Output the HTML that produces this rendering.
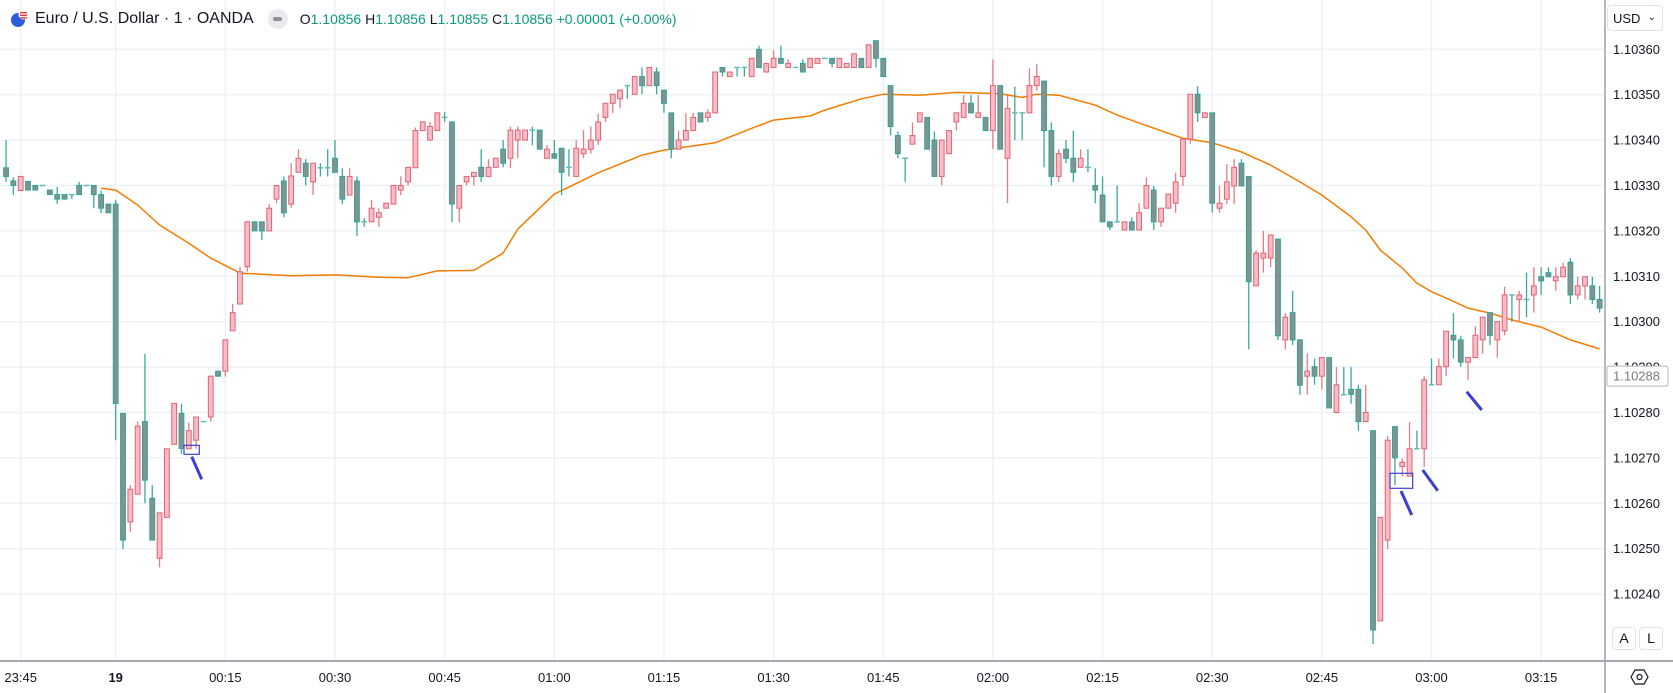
<!DOCTYPE html>
<html><head><meta charset="utf-8">
<style>
html,body{margin:0;padding:0;background:#fff;}
body{width:1673px;height:693px;overflow:hidden;position:relative;font-family:"Liberation Sans",sans-serif;}
#chart{position:absolute;left:0;top:0;}
.hdr{position:absolute;top:8px;left:0;height:22px;display:flex;align-items:center;font-size:16px;color:#131722;white-space:nowrap;}
.ohlc{font-size:14px;color:#131722;}
.ohlc b{font-weight:normal;color:#089981;}
.btn{position:absolute;width:22px;height:21px;border:1px solid #e0e3eb;border-radius:4px;background:#fff;font-size:14px;text-align:center;line-height:21px;color:#131722;}
</style></head>
<body>
<svg id="chart" width="1673" height="693"></svg>

<div class="hdr">
  <svg width="20" height="20" style="margin-left:9px">
    <circle cx="9" cy="11" r="7" fill="#2b5fd9"/><circle cx="14" cy="6" r="4.5" fill="#fff"/>
    <rect x="11" y="3" width="7" height="1.4" fill="#e53935"/><rect x="11" y="5.6" width="7" height="1.4" fill="#e53935"/><rect x="11" y="8.2" width="7" height="1.4" fill="#e53935"/>
  </svg>
  <span style="margin-left:6px">Euro / U.S. Dollar · 1 · OANDA</span>
  <span style="margin-left:14px;width:20px;height:20px;border-radius:10px;background:#e9eaee;display:inline-flex;align-items:center;justify-content:center"><span style="width:9px;height:4px;background:#8c8f97;border-radius:2px"></span></span>
  <span class="ohlc" style="margin-left:12px">O<b>1.10856</b> H<b>1.10856</b> L<b>1.10855</b> C<b>1.10856</b> <b>+0.00001 (+0.00%)</b></span>
</div>

<div style="position:absolute;left:1607px;top:5px;width:56px;height:26px;border:1px solid #e0e3eb;border-radius:4px;font-size:13px;line-height:26px;color:#131722;box-sizing:border-box;padding-left:5px">USD<span style="position:absolute;right:6px;top:-1px;font-size:10px">&#8964;</span></div>
<div class="btn" style="left:1612px;top:627px">A</div>
<div class="btn" style="left:1639px;top:627px">L</div>

<script>
// values in points: price = 1.10000 + value * 0.00001
const openPts=[333.9,331.0,328.9,330.9,330.0,330.0,329.0,328.0,328.0,328.0,330.0,330.0,330.0,328.0,325.9,325.9,279.8,255.9,262.0,278.0,261.1,247.9,256.9,273.0,279.8,272.0,273.9,278.0,279.0,289.1,289.1,298.0,303.9,312.1,322.0,322.0,320.0,327.0,331.0,325.9,332.9,334.9,330.8,333.9,333.9,336.0,332.0,327.9,331.0,322.0,322.0,323.0,325.0,325.9,329.0,330.8,333.9,342.1,340.0,342.1,345.0,344.0,325.0,330.8,332.0,334.0,332.0,334.0,338.0,336.0,340.0,340.0,342.2,342.2,336.0,337.0,338.2,334.0,332.0,337.0,338.0,340.0,345.0,348.1,349.1,352.0,350.1,354.0,352.0,355.0,351.0,346.0,338.0,340.0,342.1,346.0,345.0,346.0,356.0,354.0,356.0,356.0,354.0,360.0,355.0,356.0,358.0,356.0,356.0,356.9,356.0,356.9,358.0,358.0,356.0,356.0,356.0,358.0,356.0,361.9,358.0,352.0,341.0,336.0,339.1,344.0,345.0,340.0,332.0,337.0,344.0,345.0,348.1,345.0,345.0,342.1,352.0,336.0,346.0,346.0,346.0,352.0,353.0,342.1,332.0,338.0,336.0,334.0,334.0,330.0,327.9,322.0,322.0,320.2,322.0,320.2,325.0,329.0,322.0,325.0,326.1,332.0,340.2,350.1,345.0,346.0,325.0,327.0,329.9,334.9,332.0,307.9,314.0,314.0,318.2,296.0,302.0,296.0,288.0,290.1,288.0,292.1,280.0,283.9,285.1,285.1,278.0,276.0,234.1,251.9,276.9,268.1,266.0,272.0,272.0,286.1,286.1,290.1,297.0,296.0,291.1,292.1,296.0,302.0,296.0,298.0,305.9,304.9,304.9,305.9,309.9,310.8,309.0,309.9,313.1,305.9,307.9,307.9,304.9];
const highPts=[340.0,331.8,332.0,330.9,330.0,330.0,329.0,329.7,328.0,328.0,330.8,330.0,330.0,328.9,325.9,326.8,279.8,264.0,278.0,292.9,264.0,257.9,272.0,282.0,281.9,277.8,279.0,278.0,288.0,289.1,296.0,303.9,312.1,322.0,322.0,322.0,325.9,330.0,332.0,334.9,338.0,335.8,334.9,334.9,338.0,340.0,333.8,333.8,332.0,322.8,326.8,325.0,326.1,330.0,332.0,334.0,342.8,344.0,344.0,346.0,346.2,344.0,330.0,332.0,332.9,338.0,335.8,336.0,340.0,343.0,343.0,342.2,343.0,342.2,338.9,340.0,338.2,338.0,340.0,342.2,343.0,345.9,348.1,350.1,351.0,352.0,354.0,356.0,356.0,356.0,351.0,346.0,342.1,345.9,346.0,346.0,346.8,355.0,356.0,355.0,356.0,356.0,358.0,360.8,356.9,359.8,360.8,357.8,356.0,357.8,358.0,358.0,358.0,358.0,358.0,356.9,359.0,358.0,361.0,361.9,358.0,352.0,341.9,336.0,343.9,346.0,345.0,341.9,340.0,342.1,346.0,349.9,349.9,349.9,345.0,357.8,352.0,349.9,351.8,346.0,355.8,356.8,353.0,343.9,338.0,340.0,342.1,338.0,338.0,333.8,332.0,322.0,330.0,322.0,323.0,326.1,331.8,329.9,325.0,328.1,332.8,340.2,350.1,351.9,346.0,346.0,329.9,334.7,335.8,335.8,332.0,315.7,320.0,319.1,318.2,301.9,306.8,296.0,293.0,291.9,292.1,292.1,290.0,290.0,290.0,286.1,286.1,276.0,256.9,274.8,276.9,269.9,277.9,276.0,288.0,291.9,291.9,297.9,301.9,296.9,292.1,299.0,301.0,302.0,300.0,307.7,305.9,306.8,310.8,312.0,312.0,312.0,312.0,313.0,314.0,309.9,309.9,309.9,307.9];
const lowPts=[330.8,327.9,328.9,329.0,329.0,330.0,328.0,325.9,327.0,327.0,328.0,330.0,325.0,323.9,324.0,273.9,249.9,253.7,262.0,260.0,251.9,245.9,256.9,273.0,270.9,272.0,272.0,278.0,278.0,287.9,287.9,298.0,303.9,311.0,320.0,318.0,320.0,326.1,323.0,325.0,332.9,330.0,327.9,332.0,332.0,332.9,325.9,327.9,318.9,320.9,322.0,320.9,325.0,325.9,327.9,330.0,333.9,342.1,340.0,342.1,344.0,321.9,321.9,330.0,330.0,330.8,332.0,334.0,334.0,333.8,336.0,340.0,338.9,338.0,336.0,336.0,327.9,332.0,332.0,336.0,337.0,338.9,344.0,346.0,347.0,349.1,350.1,350.1,352.0,350.1,346.0,336.0,338.0,340.0,342.1,344.0,344.0,346.0,354.0,354.0,354.0,354.0,354.0,356.0,355.0,356.0,356.9,356.0,356.0,355.0,356.0,356.9,358.0,356.0,356.0,356.0,356.0,356.0,356.0,356.0,354.0,341.0,336.0,330.8,339.1,344.0,338.0,332.0,330.0,337.0,342.1,345.0,346.0,345.0,342.1,338.0,338.0,326.1,340.0,340.0,346.0,350.9,334.0,330.0,330.8,334.9,330.8,334.0,332.9,326.1,322.0,320.2,322.0,320.2,320.2,320.2,325.0,320.2,320.9,325.0,324.0,329.9,339.2,344.0,345.0,324.0,324.0,325.9,325.9,329.9,293.9,307.9,310.8,312.0,296.0,293.9,294.9,283.9,283.9,286.1,285.1,281.0,280.0,283.9,281.9,276.0,278.0,229.0,234.1,249.9,264.0,265.9,266.0,272.0,268.0,286.1,286.1,288.0,291.9,290.1,287.2,292.1,293.0,294.9,292.1,297.0,300.0,300.0,301.0,302.0,305.9,309.9,306.8,309.9,303.9,304.9,304.9,303.9,302.0];
const closePts=[332.0,330.0,332.0,329.0,329.0,330.0,328.0,327.0,327.0,328.0,328.0,330.0,328.0,325.0,324.0,282.0,251.9,263.1,277.0,265.1,251.9,257.9,272.0,282.0,272.1,276.0,279.0,278.0,288.0,288.0,296.0,302.0,311.0,322.0,320.0,320.0,325.0,330.0,324.0,332.1,336.0,332.0,334.9,333.9,333.9,332.9,327.0,332.0,322.0,322.0,325.0,324.0,326.1,330.0,330.0,334.0,342.1,344.0,343.0,346.0,345.0,325.9,330.0,332.0,332.9,332.0,334.0,336.0,334.9,342.2,342.2,342.2,342.2,338.0,338.0,336.0,332.9,334.0,338.2,338.0,340.0,344.0,348.1,350.1,351.0,352.0,354.0,352.0,356.0,352.0,348.1,338.0,340.0,342.1,345.0,344.0,346.0,355.0,355.0,355.0,356.0,356.0,358.0,356.0,356.9,358.0,356.9,356.9,356.0,355.0,358.0,358.0,358.0,356.9,358.0,356.9,359.0,356.0,361.0,358.0,354.0,343.0,337.0,336.0,341.0,346.0,338.0,332.0,340.0,342.1,346.0,348.1,346.0,346.0,342.1,352.0,338.0,347.0,346.0,346.0,352.0,354.0,342.1,332.0,337.0,336.0,332.9,336.0,334.0,329.0,322.0,320.9,322.0,322.0,320.2,324.0,330.0,322.0,325.0,328.1,330.8,340.2,350.1,346.0,346.0,326.1,326.1,330.8,334.0,329.9,308.8,315.1,315.1,319.1,296.9,301.0,296.0,286.0,289.1,288.0,292.1,281.0,286.1,283.9,284.0,278.0,280.0,232.1,256.9,273.9,270.0,269.0,272.0,272.0,287.2,286.1,290.1,297.9,296.0,291.1,292.1,297.0,301.0,297.0,300.0,305.9,305.9,305.9,304.9,307.9,309.0,309.9,309.9,312.0,305.9,307.9,309.9,304.9,303.0];
// moving average (read at candle indices)
const maIndex=[13,15,18,21,25,28,32,39,45,51,55,59,64,68,70,75,81,87,90,97,102,105,110,112,117,120,125,130,136,139,141,144,149,152,156,161,165,169,173,177,180,184,186,188,191,193,195,197,200,203,206,210,214,218];
const maPts=[329.4,329.0,325.7,321.3,317.3,314.0,310.7,310.1,310.3,309.8,309.7,311.2,311.3,315.1,320.4,328.1,332.8,336.7,337.8,339.4,342.6,344.4,345.3,346.6,349.1,350.1,349.9,350.5,350.2,349.4,350.1,349.9,347.7,345.5,343.2,340.4,339.4,337.4,334.5,330.8,327.9,323.1,320.2,315.8,311.8,308.5,306.6,305.2,303.0,301.9,300.4,298.8,296.0,294.0];
const priceTicks=[360,350,340,330,320,310,300,290,280,270,260,250,240];
const priceTickLabels=['1.10360','1.10350','1.10340','1.10330','1.10320','1.10310','1.10300','1.10290','1.10280','1.10270','1.10260','1.10250','1.10240'];
const timeTickIdx=[0,15,30,45,60,75,90,105,120,135,150,165,180,195];
const timeTickLabels=['23:45','19','00:15','00:30','00:45','01:00','01:15','01:30','01:45','02:00','02:15','02:30','02:45','03:00','03:15'];
const lastPricePts=288;
const lastPriceLabel='1.10288';

const NS='http://www.w3.org/2000/svg';
const svg=document.getElementById('chart');
const PLOT_R=1605, AXIS_Y=661;
function xOf(i){return 115.7+(i-15)*7.31;}
function yOf(p){return 321.7+(300-p)*4.54;}
function mk(tag,attrs,parent){const e=document.createElementNS(NS,tag);for(const k in attrs)e.setAttribute(k,attrs[k]);(parent||svg).appendChild(e);return e;}

const grid=mk('g',{});


priceTicks.forEach(p=>{
  const l=mk('line',{x1:0,x2:PLOT_R,y1:yOf(p),y2:yOf(p),stroke:'#eef1f5','stroke-width':1.5},grid);
  
  
});
const tl=['23:45','19','00:15','00:30','00:45','01:00','01:15','01:30','01:45','02:00','02:15','02:30','02:45','03:00','03:15'];
const tIdx=[0].concat(timeTickIdx.map(v=>v+15));
tIdx.forEach((ti,k)=>{
  let x=xOf(ti); if(k===0) x=20.7;
  const l=mk('line',{x1:x,x2:x,y1:0,y2:AXIS_Y,stroke:'#eef1f5','stroke-width':1.5},grid);
  
  
  const t=mk('text',{x:x,y:682,'text-anchor':'middle','font-size':13,fill:'#131722','font-family':'Liberation Sans, sans-serif','font-weight':timeTickLabels[k]==='19'?'bold':'normal'});
  t.textContent=timeTickLabels[k];
  
  
});

// moving average
let d='';
maIndex.forEach((ix,k)=>{d+=(k?'L':'M')+xOf(ix).toFixed(1)+' '+yOf(maPts[k]).toFixed(1)+' ';});
const ma=mk('path',{d:d,fill:'none',stroke:'#f57c00','stroke-width':1.5,'stroke-linejoin':'round'});



// candles
const cg=mk('g',{});


openPts.forEach((o,i)=>{
  const c=closePts[i],h=highPts[i],l=lowPts[i],x=xOf(i);
  const up=c>o, flat=c===o;
  const g=mk('g',{},cg);
  
  
  const wc=up?'#e57c87':'#3aa99c';
  mk('line',{x1:x,x2:x,y1:yOf(h),y2:yOf(l),stroke:wc,'stroke-width':1.3},g);
  if(flat){
    mk('line',{x1:x-2.8,x2:x+2.8,y1:yOf(o),y2:yOf(o),stroke:'#5fbfb4','stroke-width':1.5},g);
  } else {
    const y1=yOf(Math.max(o,c)),y2=yOf(Math.min(o,c));
    mk('rect',{x:x-2.4,y:y1,width:4.8,height:Math.max(1,y2-y1),fill:up?'#f7bcc8':'#87928f',stroke:up?'#e2636f':'#26a69a','stroke-width':1},g);
  }
});

// annotations
const ann=mk('g',{fill:'none',stroke:'#3b3fd0'});


[[184,445.3,15.3,9],[1390,473.3,22.7,15]].forEach(r=>{
  const e=mk('rect',{x:r[0],y:r[1],width:r[2],height:r[3],'stroke-width':1.2},ann);
  
  
});
[[191.7,456.7,201.7,479.3],[1401,491,1411.7,515],[1422.7,470,1437.7,490.7],[1466.7,391.7,1481.7,410]].forEach(s=>{
  const e=mk('line',{x1:s[0],y1:s[1],x2:s[2],y2:s[3],'stroke-width':3},ann);
  
  
});

// axes
const ax=mk('line',{x1:PLOT_R,x2:PLOT_R,y1:0,y2:693,stroke:'#9ea1a9','stroke-width':1.5});


const bx=mk('line',{x1:0,x2:1673,y1:AXIS_Y,y2:AXIS_Y,stroke:'#a5a8b0','stroke-width':2});


priceTicks.forEach((p,k)=>{
  const t=mk('text',{x:1613,y:yOf(p)+4.5,'font-size':13,fill:'#131722','font-family':'Liberation Sans, sans-serif'});
  t.textContent=priceTickLabels[k];
  
  
});
const ly=yOf(lastPricePts);
const lb=mk('rect',{x:1607,y:ly-10,width:61,height:20,fill:'#fff',stroke:'#b2b5be','stroke-width':1,rx:2});


const lt=mk('text',{x:1613,y:ly+4.5,'font-size':13,fill:'#787b86','font-family':'Liberation Sans, sans-serif'});
lt.textContent=lastPriceLabel;


const eye=mk('g',{fill:'none',stroke:'#131722','stroke-width':1.2});


mk('path',{d:'M1631 677 L1635 670 L1644 670 L1648 677 L1644 684 L1635 684 Z'},eye);
mk('circle',{cx:1639.5,cy:677,r:2.5},eye);
</script>
</body></html>
